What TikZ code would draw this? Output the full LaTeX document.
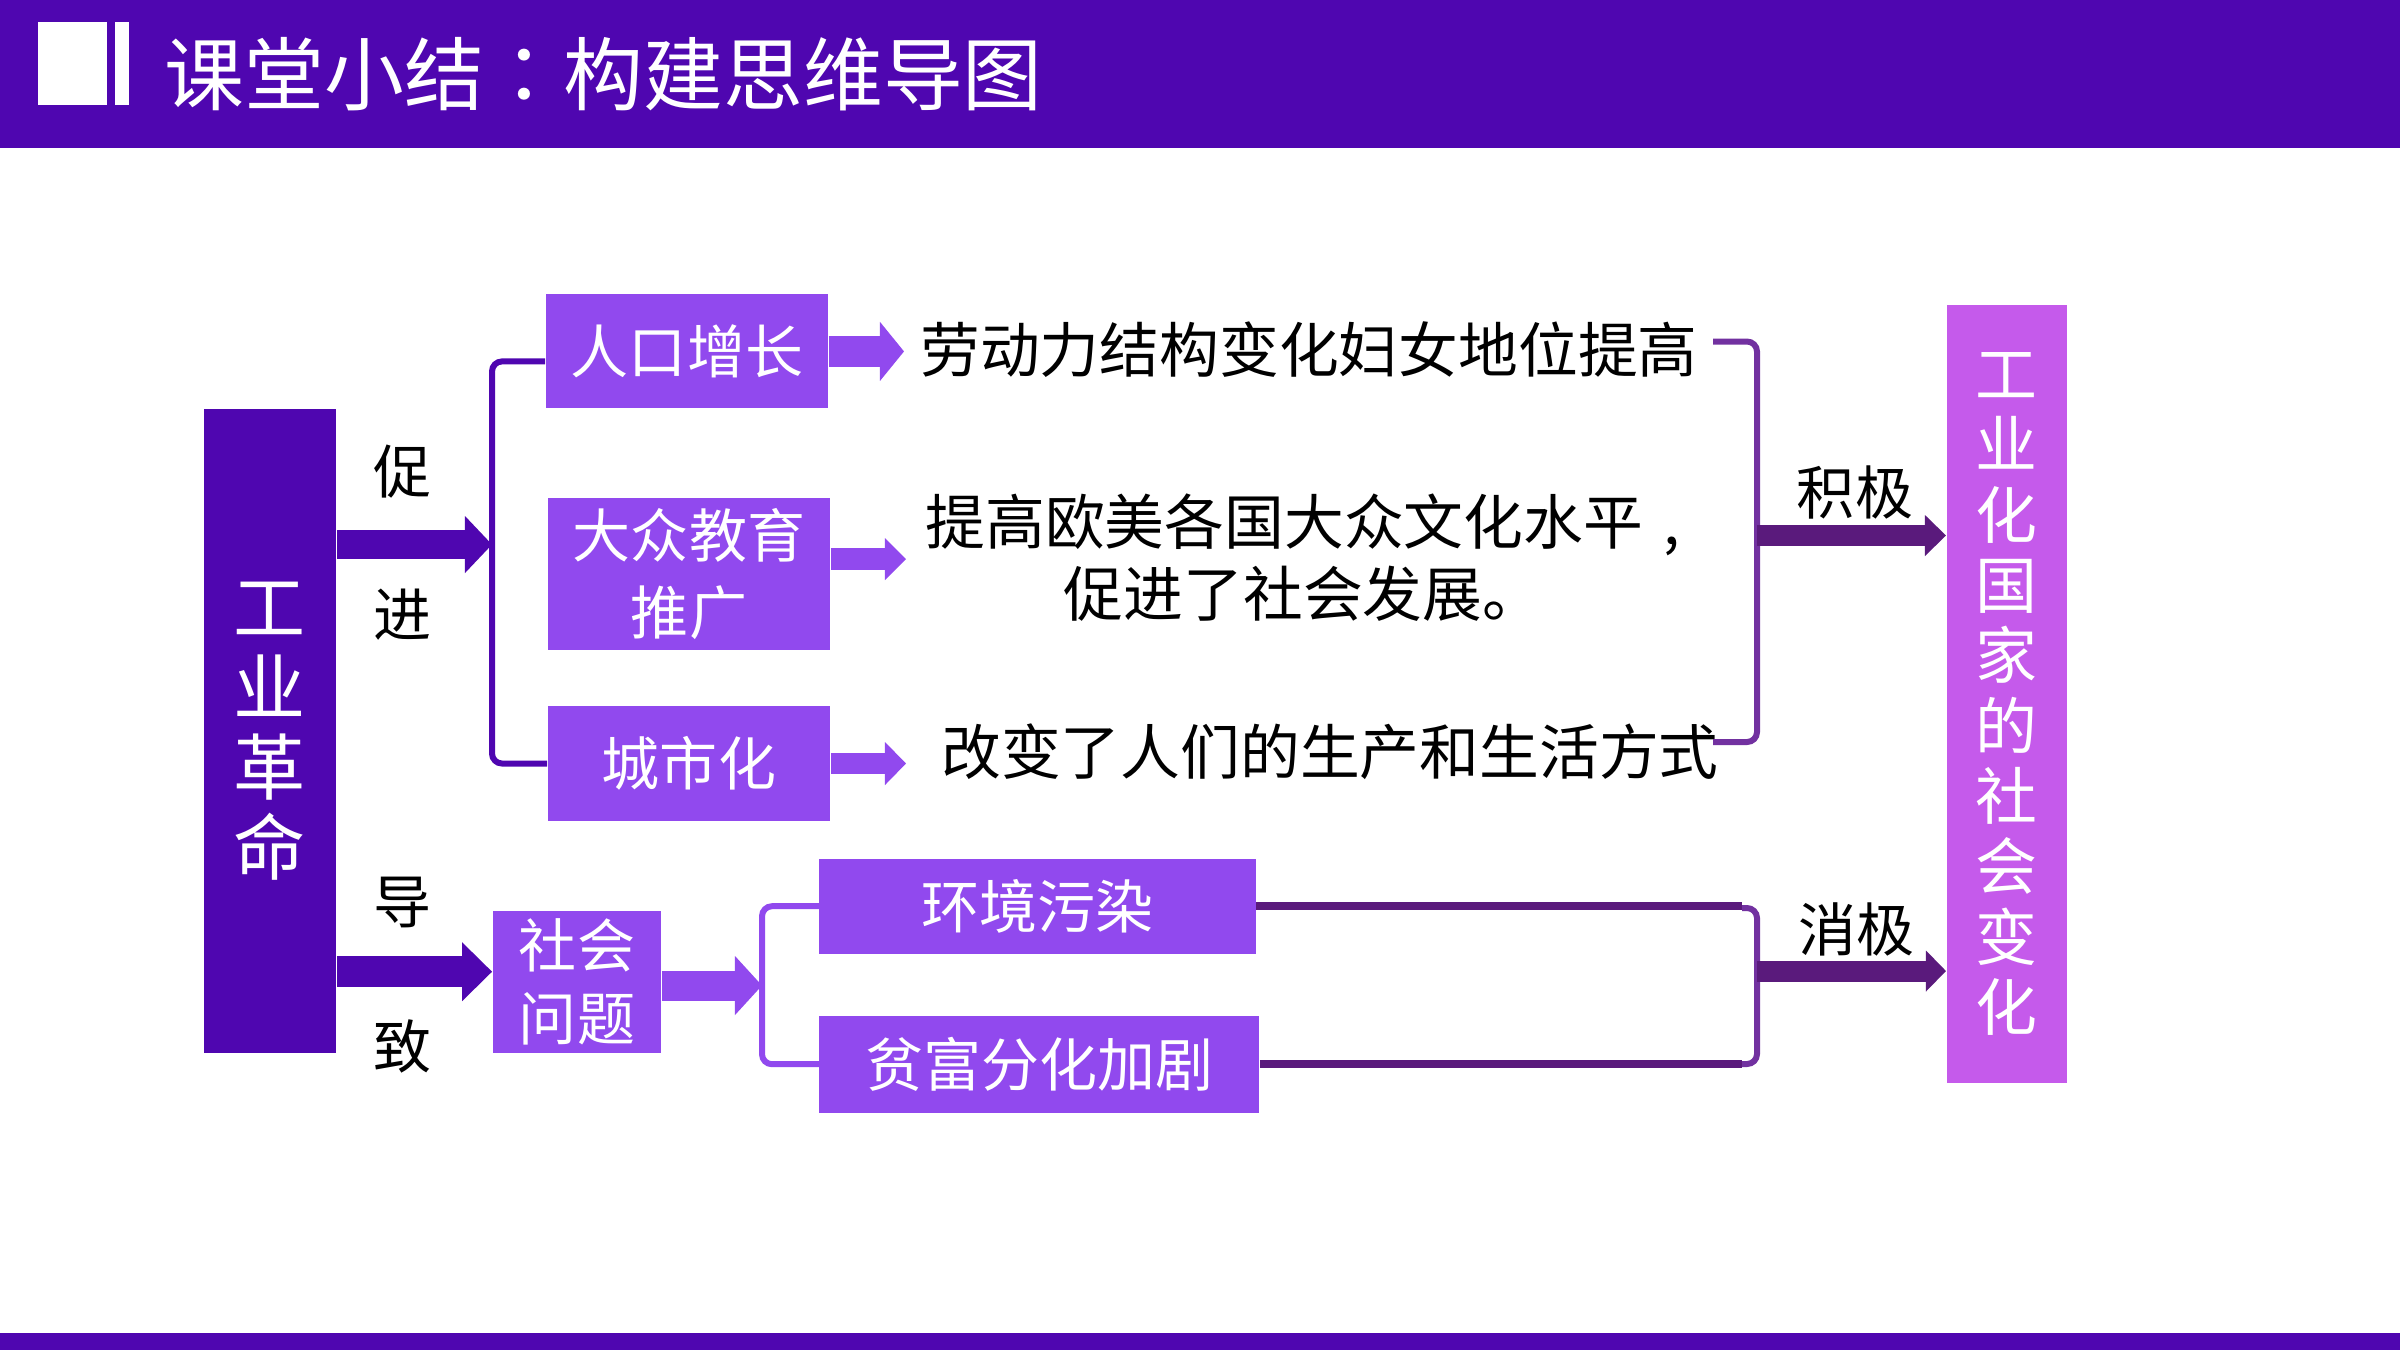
\documentclass[tikz,border=0pt]{standalone}
\usepackage{fontspec}
\setmainfont{Noto Sans CJK SC}
\newfontfamily\tcfont{Noto Sans CJK TC}
\usetikzlibrary{arrows.meta}
\definecolor{deeppurple}{RGB}{79,6,176}
\definecolor{boxpurple}{RGB}{145,73,238}
\definecolor{pinkpurple}{RGB}{197,90,235}
\definecolor{plum}{RGB}{90,26,124}
\definecolor{bracketpurple}{RGB}{114,49,160}

\begin{document}
\begin{tikzpicture}[x=0.01cm,y=-0.01cm,
    box/.style={fill=boxpurple,text=white,inner sep=0,minimum width=2.82cm,align=center,font=\fontsize{16.5}{21.9}\selectfont},
    word/.style={inner sep=0,align=center,font=\fontsize{16.5}{20.5}\selectfont},
    sentence/.style={word,font=\fontsize{17}{20.5}\selectfont},
    blockarrow/.style n args={3}{line width=#1,-{Triangle[width=#2,length=#3,line width=0pt]}},
    bracket/.style={line width=0.06cm,rounded corners=0.1cm}]
      \useasboundingbox (0,0) rectangle (2400,1350);

      % title bar
      \fill[deeppurple] (0,0) rectangle (2400,148);
      \fill[white] (38,22) rectangle (107,105);
      \fill[white] (115,22) rectangle (129,105);
      \node[anchor=west,inner sep=0,text=white,font=\fontsize{22.7}{26}\selectfont] (title) at (164,74) {课堂小结{\tcfont ：}构建思维导图};
      \fill[deeppurple] (0,1333) rectangle (2400,1350);

      \node[fill=deeppurple,text=white,inner sep=0,minimum width=1.324cm,minimum height=6.44cm,align=center,font=\fontsize{20.5}{22.8}\selectfont] (gy) at (270,731) {工\\业\\革\\命};
      \node[box,minimum height=1.14cm] (rk) at (687,351.4) {人口增长};
      \node[box,minimum height=1.51cm] (jy) at (689,574) {大众教育\\推广};
      \node[box,minimum height=1.15cm] (cs) at (689,763.5) {城市化};
      \node[box,minimum width=1.684cm,minimum height=1.42cm,font=\fontsize{16.5}{20.6}\selectfont] (sh) at (577,981.7) {社会\\问题};
      \node[box,minimum width=4.36cm,minimum height=0.95cm] (hj) at (1037.6,906.2) {环境污染};
      \node[box,minimum width=4.394cm,minimum height=0.965cm] (pf) at (1039.3,1064.2) {贫富分化加剧};
      \node[fill=pinkpurple,text=white,inner sep=0,minimum width=1.2cm,minimum height=7.777cm,align=center,font=\fontsize{17.6}{20}\selectfont] (gh) at (2006.7,693.8) {工\\业\\化\\国\\家\\的\\社\\会\\变\\化};

      \node[sentence] (t1) at (1309,350) {劳动力结构变化妇女地位提高};
      \node[sentence] (t2) at (1303,558) {提高欧美各国大众文化水平\hspace{0.35em},\hspace{0.38em}\\促进了社会发展。};
      \node[sentence] (t3) at (1330,751.5) {改变了人们的生产和生活方式};
      \node[word] (cu) at (402.5,471.7) {促};
      \node[word] (jin) at (402.5,615) {进};
      \node[word] (dao) at (402.5,902) {导};
      \node[word] (zhi) at (402.5,1046) {致};
      \node[word] (jiji) at (1855,492.5) {积极};
      \node[word] (xiaoji) at (1856,929) {消极};

      \coordinate (lb) at (492,544.5);
      \coordinate (sb) at ([yshift=0.1cm]sh.west);
      \coordinate (mb) at (762,985.5);
      \coordinate (rkend) at (904,351.4);
      \coordinate (jyend) at (906,559);
      \coordinate (csend) at (906,763.5);
      \coordinate (r1) at (1713,341.5);
      \coordinate (r2) at (1713,742);
      \coordinate (rt) at (1757,535.5);
      \coordinate (r3) at (1742,908);
      \coordinate (r4) at (1742,1064);
      \coordinate (rb) at (1757,971);

      % brackets
      \draw[bracket,deeppurple] ([yshift=-0.1cm]rk.west) -| (lb) |- (cs.west);
      \draw[bracket,boxpurple] (hj.west) -| (mb) |- (pf.west);
      \draw[bracket,bracketpurple] (r1) -| (rt) |- (r2);
      \draw[plum,line width=0.08cm] (hj.east) -- (hj.east -| r3);
      \draw[plum,line width=0.08cm] (pf.east) -- (pf.east -| r4);
      \draw[bracket,bracketpurple] (r3) -| (rb) |- (r4);

      % arrows
      \draw[deeppurple,blockarrow={0.29cm}{0.57cm}{0.27cm}] (gy.east |- lb) -- (lb);
      \draw[deeppurple,blockarrow={0.31cm}{0.59cm}{0.30cm}] (gy.east |- sb) -- (sb);
      \draw[boxpurple,blockarrow={0.31cm}{0.59cm}{0.24cm}] (rk.east) -- (rkend);
      \draw[boxpurple,blockarrow={0.22cm}{0.42cm}{0.21cm}] (jy.east |- jyend) -- (jyend);
      \draw[boxpurple,blockarrow={0.215cm}{0.43cm}{0.21cm}] (cs.east) -- (csend);
      \draw[boxpurple,blockarrow={0.30cm}{0.59cm}{0.27cm}] (sh.east |- mb) -- (mb);
      \draw[plum,blockarrow={0.21cm}{0.41cm}{0.21cm}] (rt) -- (gh.west |- rt);
      \draw[plum,blockarrow={0.21cm}{0.41cm}{0.20cm}] (rb) -- (gh.west |- rb);
\end{tikzpicture}
\end{document}
